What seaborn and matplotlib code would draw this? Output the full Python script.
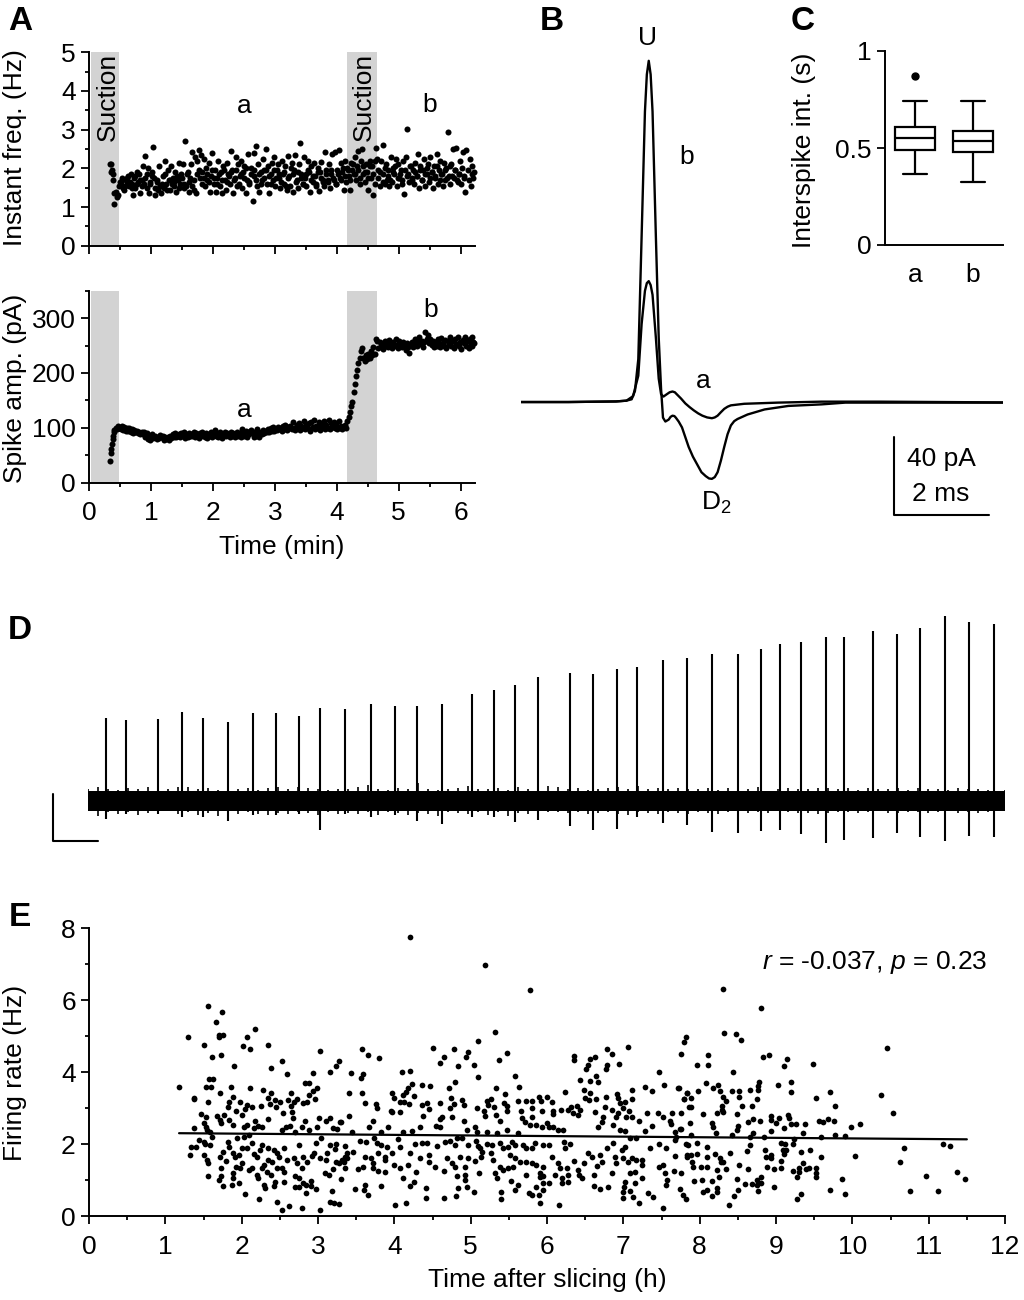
# -*- coding: utf-8 -*-
import numpy as np
import pandas as pd
import matplotlib
matplotlib.use('Agg')
import matplotlib.pyplot as plt
from matplotlib.ticker import MultipleLocator
import seaborn as sns

sns.set_theme(style='ticks')
plt.rcParams['font.family'] = ['Liberation Sans', 'DejaVu Sans']
plt.rcParams['mathtext.fontset'] = 'custom'
plt.rcParams['mathtext.rm'] = 'Liberation Sans'
plt.rcParams['mathtext.it'] = 'Liberation Sans:italic'
for k in ['text.color', 'axes.labelcolor', 'xtick.color', 'ytick.color', 'axes.edgecolor']:
    plt.rcParams[k] = 'black'

# panel A, one row per 0.2 min
a_time = [
 .34,.35,.36,.37,.38,.39,.40,.41,.43,.45,
 .47,.49,.51,.53,.55,.57,.59,.61,.63,.65,
 .67,.69,.71,.73,.75,.77,.79,.81,.83,.85,
 .87,.89,.91,.93,.95,.97,.99,1.01,1.03,1.05,
 1.07,1.09,1.11,1.13,1.15,1.17,1.19,1.21,1.23,1.25,
 1.27,1.29,1.31,1.33,1.35,1.37,1.39,1.41,1.43,1.45,
 1.47,1.49,1.51,1.53,1.55,1.57,1.59,1.61,1.63,1.65,
 1.67,1.69,1.71,1.73,1.75,1.77,1.79,1.81,1.83,1.85,
 1.87,1.89,1.91,1.93,1.95,1.97,1.99,2.01,2.03,2.05,
 2.07,2.09,2.11,2.13,2.15,2.17,2.19,2.21,2.23,2.25,
 2.27,2.29,2.31,2.33,2.35,2.37,2.39,2.41,2.43,2.45,
 2.47,2.49,2.51,2.53,2.55,2.57,2.59,2.61,2.65,2.66,
 2.67,2.70,2.71,2.73,2.75,2.77,2.79,2.81,2.83,2.85,
 2.87,2.89,2.91,2.93,2.95,2.97,2.99,3.01,3.03,3.05,
 3.07,3.09,3.11,3.13,3.15,3.17,3.19,3.21,3.23,3.25,
 3.27,3.29,3.31,3.33,3.35,3.37,3.39,3.41,3.43,3.45,
 3.47,3.49,3.51,3.53,3.55,3.57,3.59,3.61,3.63,3.65,
 3.67,3.69,3.71,3.73,3.75,3.77,3.79,3.81,3.83,3.85,
 3.87,3.89,3.91,3.93,3.95,3.97,3.99,4.01,4.03,4.05,
 4.07,4.09,4.11,4.13,4.15,4.17,4.19,4.21,4.23,4.25,
 4.27,4.29,4.31,4.33,4.35,4.37,4.39,4.41,4.43,4.45,
 4.47,4.49,4.51,4.53,4.55,4.57,4.59,4.61,4.63,4.65,
 4.67,4.69,4.71,4.74,4.75,4.77,4.79,4.81,4.83,4.85,
 4.87,4.89,4.91,4.93,4.95,4.97,4.99,5.01,5.03,5.05,
 5.07,5.09,5.11,5.13,5.15,5.17,5.19,5.21,5.23,5.25,
 5.27,5.29,5.31,5.33,5.35,5.37,5.39,5.41,5.43,5.45,
 5.47,5.49,5.51,5.53,5.55,5.57,5.59,5.61,5.63,5.65,
 5.67,5.69,5.71,5.73,5.75,5.77,5.79,5.81,5.83,5.85,
 5.87,5.89,5.91,5.93,5.95,5.97,5.99,6.01,6.03,6.05,
 6.07,6.09,6.11,6.13,6.15,6.17,6.18,6.19,6.20,6.21]
a_freq = [
 2.1,2.1,1.9,1.95,1.7,1.85,1.09,1.35,1.4,1.25,
 1.3,1.55,1.6,1.75,1.5,1.45,1.7,1.6,1.8,1.55,
 1.85,1.6,1.31,1.75,1.5,1.9,1.65,1.85,1.36,1.7,
 2.05,1.6,2.33,1.85,2.0,1.35,1.6,1.9,2.56,1.75,
 1.3,1.65,1.45,2.05,1.55,1.35,1.8,1.5,2.2,1.6,
 1.95,1.7,1.45,2.05,1.75,1.55,1.9,1.4,1.7,2.15,
 1.6,1.85,2.1,1.5,2.71,1.55,1.9,1.4,1.75,2.1,
 2.43,1.45,2.3,1.35,2.2,2.47,1.75,2.35,1.9,2.25,
 1.55,2.0,1.7,2.15,1.38,1.8,2.4,1.6,1.95,1.38,
 1.75,2.2,1.55,1.9,1.35,2.05,1.7,1.45,2.15,1.85,
 1.6,2.44,1.95,1.35,1.75,2.3,1.55,2.1,1.8,2.2,
 1.5,1.9,2.05,1.35,1.7,2.36,1.6,2.0,1.15,2.4,
 1.8,2.58,1.55,2.1,1.4,1.9,1.7,2.25,1.95,2.5,
 1.6,2.05,1.35,1.85,2.15,1.7,2.3,1.55,1.95,2.1,
 1.75,1.5,2.2,1.85,1.6,2.05,1.45,2.33,1.8,1.55,
 2.15,1.4,1.95,2.35,1.7,1.5,2.1,2.66,1.85,1.6,
 2.3,1.75,1.55,2.2,1.9,1.4,2.05,1.65,2.15,1.8,
 1.55,2.0,1.42,1.9,2.17,1.7,1.55,2.42,1.95,1.65,
 2.1,1.5,1.85,2.38,1.7,2.42,1.6,1.95,2.47,1.75,
 2.15,1.9,1.45,2.2,1.65,2.0,1.8,1.45,2.15,1.95,
 1.85,2.3,1.7,2.05,2.45,1.6,2.2,2.5,1.85,1.65,
 2.1,1.9,1.45,2.2,1.75,2.05,1.31,1.6,2.52,2.25,
 1.95,1.55,2.2,2.61,1.85,1.6,2.1,1.7,1.95,1.55,
 2.3,1.65,2.0,1.85,2.25,1.55,2.1,1.75,1.95,1.6,
 2.2,1.34,2.3,3.02,1.85,1.65,2.05,1.75,1.95,1.6,
 2.15,1.8,2.38,1.5,2.05,1.7,1.95,2.25,1.55,1.85,
 2.1,1.65,2.3,1.9,1.5,2.05,1.75,2.37,1.6,1.95,
 2.2,1.85,1.55,2.15,1.7,2.0,2.93,1.8,1.6,2.1,
 2.5,1.75,1.95,2.52,1.65,1.85,2.2,1.6,2.42,1.75,
 1.4,2.47,1.95,1.7,2.25,1.55,1.85,2.05,1.75,1.9]
# second pass over the same band, fills the gaps between the dots above
a_time2 = [
 .50,.54,.58,.62,.66,.70,.74,.78,.82,.86,.90,.94,.98,1.02,1.06,1.10,1.14,1.18,1.22,1.26,
 1.30,1.34,1.38,1.42,1.46,1.50,1.54,1.58,1.62,1.66,1.70,1.74,1.78,1.82,1.86,1.90,1.94,1.98,2.02,2.06,
 2.10,2.14,2.18,2.22,2.26,2.30,2.34,2.38,2.42,2.46,2.50,2.54,2.58,2.62,2.66,2.70,2.74,2.78,2.82,2.86,
 2.90,2.94,2.98,3.02,3.06,3.10,3.14,3.18,3.22,3.26,3.30,3.34,3.38,3.42,3.46,3.50,3.54,3.58,3.62,3.66,
 3.70,3.74,3.78,3.82,3.86,3.90,3.94,3.98,4.02,4.06,4.10,4.14,4.18,4.22,4.26,4.30,4.34,4.38,4.42,4.46,
 4.50,4.54,4.58,4.62,4.66,4.70,4.74,4.78,4.82,4.86,4.90,4.94,4.98,5.02,5.06,5.10,5.14,5.18,5.22,5.26,
 5.30,5.34,5.38,5.42,5.46,5.50,5.54,5.58,5.62,5.66,5.70,5.74,5.78,5.82,5.86,5.90,5.94,5.98,6.02,6.06]
a_freq2 = [
 1.65,1.7,1.55,1.75,1.65,1.5,1.8,1.6,1.7,1.55,1.75,1.5,1.65,1.8,1.5,1.7,1.55,1.6,1.85,1.45,
 1.7,1.6,1.65,1.8,1.5,1.75,1.6,1.85,1.65,1.55,1.7,1.85,1.95,1.6,1.75,1.85,1.65,1.95,1.75,1.6,
 1.85,1.7,1.95,1.65,1.8,1.9,1.7,1.95,1.6,1.85,1.75,2.0,1.65,1.85,1.95,1.7,1.85,1.6,1.75,1.95,
 1.8,1.6,1.95,1.75,1.85,1.65,1.9,1.55,1.75,2.0,1.85,1.65,1.9,1.75,1.6,1.85,1.95,1.7,1.8,1.6,
 1.9,1.75,1.65,1.85,1.7,1.95,1.75,1.6,1.85,1.7,2.0,1.8,1.95,1.7,2.1,1.85,1.95,1.75,2.05,1.9,
 1.75,2.05,1.85,2.2,1.75,1.9,1.65,2.0,1.8,1.7,1.9,2.05,1.75,1.85,1.7,1.95,1.8,2.05,1.7,1.9,
 1.8,1.95,1.7,1.85,2.0,1.75,1.9,1.8,2.05,1.7,1.85,1.95,1.75,2.05,1.8,1.95,1.7,1.85,2.0,1.8]
a_amp = [
 40,55,62,70,80,85,92,96,100,98,
 104,100,98,103,96,101,94,99,95,100,
 92,98,90,96,92,94,90,93,88,92,
 88,92,84,90,80,86,78,88,82,84,
 86,80,84,82,87,83,85,78,84,80,
 84,78,86,81,88,84,90,83,86,88,
 84,90,86,92,82,88,84,91,86,89,
 85,92,84,90,86,82,90,85,92,87,
 84,90,82,88,85,92,84,89,96,86,
 90,84,92,86,82,88,92,85,90,87,
 84,92,86,90,83,88,93,85,90,84,
 98,90,86,94,84,92,88,96,90,84,
 92,86,97,90,84,93,88,96,90,94,
 92,97,93,99,95,101,94,98,96,102,
 97,100,95,103,98,105,96,101,99,104,
 98,110,100,96,106,100,108,96,103,100,
 112,98,105,100,108,95,110,102,115,97,
 104,100,110,96,107,101,112,98,105,100,
 114,97,108,101,111,99,106,97,112,100,
 104,98,102,106,100,112,120,128,140,148,
 165,180,195,205,218,228,240,245,228,222,
 232,225,235,228,240,232,248,235,262,258,
 245,256,250,252,244,258,250,254,247,260,
 252,246,256,249,262,251,245,258,253,248,
 256,250,241,254,247,236,252,257,248,255,
 262,250,256,266,252,259,248,257,275,262,
 270,254,262,251,258,248,256,250,262,254,
 248,264,255,250,260,246,258,252,265,250,
 258,246,262,253,266,249,257,244,260,254,
 265,250,258,246,262,252,266,250,256,254]
suction_spans = [(0.03, 0.48), (4.17, 4.65)]

# panel B
b_time = [0,1.0,2.0,2.22,2.33,2.40,2.47,2.54,2.61,2.65,2.69,2.73,2.77,2.84,2.90,2.95,2.99,3.04,3.11,3.15,3.19,3.23,3.26,3.32,3.39,3.46,3.53,3.62,3.71,3.80,3.89,3.96,4.02,4.08,4.14,4.21,4.28,4.35,4.42,4.49,4.56,4.77,5.13,5.63,6.33,6.83,10.15]
b_curr = [0,0,0.3,0.7,1.4,5.7,22,85,149,168,175,168,149,85,33,6.6,-8,-10,-9,-7.6,-7,-7.2,-8,-10,-13,-18,-23,-28,-32,-36,-38,-39.2,-39.4,-38.5,-36,-30,-23,-16.5,-12,-9.8,-8.7,-6.4,-3.8,-2,-1.2,-0.3,-0.3]
a2_time = [0,1.0,2.0,2.22,2.36,2.47,2.54,2.61,2.65,2.69,2.73,2.77,2.84,2.90,2.95,3.0,3.07,3.13,3.19,3.24,3.28,3.37,3.46,3.55,3.64,3.73,3.82,3.92,4.02,4.08,4.14,4.21,4.28,4.35,4.42,4.70,5.41,6.33,7.54,10.15]
a2_curr = [0,0,0.3,0.7,3,13.5,40,57,61,62,60,55,33,12,4,2.8,4,5,5.4,5,4,1.8,-0.7,-2.6,-4.3,-5.8,-7,-7.9,-8.3,-7.9,-7,-5.2,-3.5,-2.4,-1.7,-0.9,-0.3,0.2,0.2,-0.2]

# panel C
isi_a = [0.365,0.45,0.49,0.53,0.55,0.58,0.61,0.74,0.87]
isi_b = [0.325,0.42,0.48,0.51,0.535,0.56,0.59,0.66,0.74]

# panel D
spike_t = [0.35,0.76,1.39,1.87,2.29,2.79,3.29,3.75,4.21,4.64,5.13,5.65,6.13,6.57,7.07,7.68,8.11,8.54,9.0,9.63,10.09,10.58,10.98,11.49,11.98,12.47,13.0,13.46,13.84,14.25,14.75,15.11,15.69,16.17,16.63,17.14,17.61,18.11]
spike_up = [164,161,163,177,165,156,175,175,169,184,183,193,188,189,193,213,220,230,247,255,253,262,267,281,285,293,293,303,312,316,327,326,339,332,345,369,357,353]
spike_down = [-37,-27,-27,-33,-33,-41,-30,-30,-27,-59,-27,-33,-30,-41,-48,-33,-33,-43,-40,-51,-59,-57,-33,-45,-49,-64,-65,-61,-59,-67,-85,-80,-76,-65,-74,-82,-71,-73]
noise_core = (-21, 19)
noise_t = [0,.2,.4,.6,.8,1,1.2,1.4,1.6,1.8,2,2.2,2.4,2.6,2.8,3,3.2,3.4,3.6,3.8,4,4.2,4.4,4.6,4.8,5,5.2,5.4,5.6,5.8,6,6.2,6.4,6.6,6.8,7,7.2,7.4,7.6,7.8,8,8.2,8.4,8.6,8.8,9,9.2,9.4,9.6,9.8,10,10.2,10.4,10.6,10.8,11,11.2,11.4,11.6,11.8,12,12.2,12.4,12.6,12.8,13,13.2,13.4,13.6,13.8,14,14.2,14.4,14.6,14.8,15,15.2,15.4,15.6,15.8,16,16.2,16.4,16.6,16.8,17,17.2,17.4,17.6,17.8,18,18.34]
noise_hi = [22,26,23,21,24,22,26,25,22,26,27,22,24,21,23,22,24,21,25,26,22,27,24,22,21,23,22,26,30,22,21,24,22,34,23,21,22,24,29,23,22,24,21,26,22,23,29,26,22,24,21,23,24,26,22,28,22,25,23,24,22,23,25,21,24,22,23,27,18,23,24,22,23,25,24,22,25,21,24,23,22,25,21,24,22,23,21,24,23,22,21,20]
noise_lo = [-22,-32,-24,-28,-23,-30,-25,-26,-22,-28,-24,-30,-26,-32,-23,-28,-24,-27,-30,-25,-28,-24,-26,-30,-24,-27,-25,-28,-23,-30,-24,-26,-30,-25,-28,-31,-24,-26,-28,-23,-30,-24,-32,-25,-28,-30,-24,-23,-26,-24,-28,-25,-24,-27,-30,-24,-26,-28,-24,-25,-27,-23,-25,-28,-24,-23,-26,-24,-25,-22,-24,-26,-25,-28,-26,-24,-23,-25,-24,-22,-25,-26,-23,-24,-26,-24,-22,-25,-24,-26,-24,-22]

# panel E
e_time = [
 1.18,1.30,1.56,1.66,1.74,1.70,1.70,1.75,1.50,1.61,1.73,1.90,2.02,2.07,2.11,2.17,2.35,2.38,2.53,2.60,3.02,3.27,3.23,3.16,2.93,2.83,2.88,2.99,2.94,2.88,2.96,
 1.57,1.63,1.53,1.60,1.71,1.38,1.38,1.56,1.86,2.11,2.28,2.38,2.64,1.89,1.84,1.98,2.07,2.13,2.05,2.35,2.44,2.50,2.37,2.45,2.61,2.72,2.68,2.64,2.81,2.85,2.25,
 1.82,1.93,2.0,1.47,1.53,1.68,1.77,1.71,1.83,1.73,1.38,1.51,1.53,1.55,1.58,1.88,2.03,2.07,2.16,2.17,2.22,2.27,2.35,2.54,2.66,2.67,2.58,2.63,2.53,2.7,2.79,2.83,2.88,3.01,2.99,3.11,3.16,3.19,3.25,3.30,3.40,
 1.33,1.40,1.32,1.44,1.50,1.52,1.58,1.61,1.50,1.54,1.56,1.56,1.71,1.73,1.73,1.70,1.76,1.79,1.76,1.87,1.82,1.84,1.88,1.91,1.96,1.92,1.89,1.89,1.98,1.96,2.05,2.0,
 1.94,2.03,2.09,2.01,2.07,2.14,2.16,2.2,2.09,2.14,2.2,2.22,2.29,2.31,2.23,2.27,2.24,2.35,2.29,2.27,2.33,2.38,2.44,2.42,2.35,2.40,2.42,2.46,2.49,2.55,2.46,2.53,2.55,2.55,2.46,2.53,2.62,2.79,3.02,3.16,3.21,3.27,
 2.60,2.68,2.73,2.70,2.75,2.70,2.75,2.80,2.84,2.84,2.91,2.91,2.98,2.79,2.86,2.81,2.75,2.95,2.92,3.02,3.12,3.11,2.98,3.04,3.16,3.23,3.22,3.19,3.09,3.14,3.27,3.23,3.30,3.18,3.36,3.34,3.38,3.36,
 4.20,5.19,5.78,5.32,5.10,3.58,3.66,3.80,3.43,3.59,3.56,4.10,4.21,4.51,4.65,4.60,4.78,4.97,4.94,4.84,5.04,5.10,5.37,5.48,5.58,5.63,4.79,4.72,4.36,4.47,4.23,4.18,4.15,5.33,3.97,3.99,4.12,4.26,3.58,3.40,3.62,3.76,3.77,4.07,4.13,4.19,3.95,3.97,4.08,4.36,4.43,4.46,4.37,4.6,4.74,4.88,4.78,4.73,4.91,4.75,4.63,4.6,4.91,5.08,5.21,5.26,5.45,5.44,5.47,5.23,5.31,5.17,5.19,5.33,5.48,5.39,
 5.62,5.72,5.8,5.9,5.92,6.0,6.07,5.66,5.81,5.81,5.93,6.08,6.08,6.18,6.27,6.24,6.32,6.39,6.43,6.34,6.41,6.36,6.36,6.63,6.56,6.54,6.51,6.78,6.77,6.85,6.79,6.94,7.06,6.64,6.67,6.56,6.43,6.49,6.56,6.50,6.55,6.64,6.77,6.92,6.93,7.12,7.11,6.96,7.02,7.0,6.76,6.85,6.93,6.91,7.08,7.04,7.12,6.63,6.74,6.72,6.67,6.87,6.96,7.02,7.21,7.28,7.38,7.47,7.53,7.31,7.45,7.52,7.38,7.28,7.73,7.84,7.79,7.86,7.64,7.76,7.61,7.63,7.76,7.80,7.82,7.76,
 5.86,5.93,6.0,6.03,6.08,6.15,6.21,5.67,5.71,5.78,5.47,5.62,5.06,5.08,5.21,5.34,4.95,4.55,4.6,4.23,4.12,3.92,3.83,3.67,3.72,4.33,3.45,3.29,
 3.55,3.63,3.73,3.77,3.83,3.9,4.05,4.07,4.27,4.36,4.43,4.56,4.66,4.73,4.82,4.79,4.88,4.96,5.07,5.09,5.12,5.15,5.22,5.28,5.38,5.43,5.49,5.54,5.58,5.69,5.73,5.8,5.84,5.95,6.02,6.22,6.3,6.24,6.54,6.59,6.69,6.87,6.78,7.02,6.98,7.09,7.17,7.35,7.47,7.56,7.68,7.85,
 3.35,3.38,3.46,3.31,3.62,3.7,3.72,3.79,3.88,3.88,3.97,3.59,3.52,3.72,3.78,3.88,4.0,4.08,4.18,4.21,4.34,4.45,4.46,4.53,4.29,4.12,4.26,4.2,4.42,4.41,4.65,4.69,4.75,4.79,4.86,4.93,4.97,4.82,4.93,4.93,4.95,4.83,4.81,4.65,4.01,4.15,3.48,3.62,3.6,3.66,3.83,5.04,5.11,5.06,5.14,5.27,5.29,5.32,5.35,5.4,5.4,5.38,5.43,5.49,5.55,5.53,5.62,5.58,5.52,5.58,5.65,
 5.72,5.8,5.86,5.95,5.72,5.91,5.91,5.95,5.77,5.8,5.89,5.86,5.95,6.02,5.95,5.91,6.16,6.06,6.15,6.17,6.26,6.1,6.19,6.28,6.28,6.2,6.36,6.48,6.41,6.42,6.46,6.61,6.61,6.7,6.8,6.65,6.72,6.85,6.89,6.91,7.0,7.06,7.11,7.17,7.24,7.24,7.09,7.15,7.02,7.01,7.15,7.0,7.0,7.09,7.13,7.21,7.24,7.32,7.39,7.52,7.47,7.52,7.55,7.57,7.56,7.68,7.66,7.75,7.74,7.78,7.82,7.83,
 8.31,8.81,8.32,8.48,8.54,10.46,8.83,8.91,9.14,9.1,9.48,8.11,8.11,7.96,8.44,8.08,8.24,8.18,8.26,7.98,7.72,8.31,8.35,8.29,8.29,8.31,8.23,8.42,8.52,8.52,8.55,8.49,8.68,8.75,8.66,8.76,8.76,8.78,9.03,9.19,9.19,9.71,9.53,9.77,10.38,10.53,8.04,7.88,7.88,7.79,7.83,7.87,8.16,8.17,8.21,
 8.63,8.7,8.79,8.94,8.94,9.04,9.0,9.1,9.16,9.17,9.19,9.26,9.38,8.94,8.49,8.5,8.7,9.35,9.56,9.61,9.68,9.76,9.77,9.9,9.98,10.1,
 11.19,11.28,10.68,10.62,10.97,11.37,11.48,10.76,11.12,10.03,9.86,9.9,9.71,9.59,9.53,9.53,9.52,9.44,9.43,9.39,9.36,9.33,9.3,9.3,9.22,9.28,9.33,9.28,9.06,9.12,9.22,9.09,9.13,9.11,9.06,9.07,8.97,8.88,8.86,8.87,8.93,8.93,8.97,8.66,8.62,8.52,8.63,8.4,
 8.34,8.28,8.26,8.2,8.31,8.1,8.1,8.1,8.02,7.91,7.9,7.83,7.88,7.97,7.97,7.82,8.23,8.25,8.16,8.03,7.92,8.49,8.5,8.45,8.39,8.23,8.23,8.1,8.04,8.16,8.6,8.69,8.75,8.8,8.8,8.75,8.76,8.42,8.84,8.66,9.24,9.59,7.88,7.69,7.74,7.68]
e_rate = [
 3.58,4.98,5.83,5.38,5.68,5.03,4.96,5.03,4.75,4.41,4.47,4.17,4.73,4.98,4.65,5.19,4.75,4.12,4.31,3.94,4.59,4.31,4.18,3.99,3.96,3.70,3.69,3.55,3.48,3.36,3.24,
 3.80,3.80,3.59,3.59,3.41,3.29,3.25,3.17,3.57,3.56,3.51,3.43,3.43,3.31,3.16,3.16,3.08,3.02,2.96,3.27,3.22,3.16,3.11,3.04,3.22,3.25,3.18,3.06,3.15,3.16,3.06,
 3.02,2.93,2.81,2.83,2.76,2.79,2.81,2.67,2.67,2.59,2.45,2.57,2.46,2.39,2.32,2.53,2.48,2.53,2.45,2.64,2.5,2.48,2.69,2.85,2.9,2.71,2.48,2.51,2.39,2.34,2.48,2.65,2.39,2.71,2.46,2.63,2.71,2.44,2.43,2.62,2.79,
 1.93,1.93,1.69,2.11,2.06,2.0,1.97,2.19,1.69,1.56,1.46,1.11,1.63,1.32,1.11,1.0,1.79,1.54,.83,.86,2.06,1.91,1.74,1.65,1.69,1.37,1.19,1.05,1.32,.93,.61,1.46,
 2.16,2.2,2.25,1.88,1.88,2.02,1.72,1.65,1.28,1.32,1.14,1.05,.86,.77,.47,1.97,1.83,1.88,1.42,1.32,1.23,1.14,.95,.83,1.56,1.51,1.83,1.74,1.65,1.88,1.32,1.32,1.23,.95,.4,.17,.29,.22,.17,.38,.37,.33,
 1.56,1.6,1.46,1.11,1.05,.8,.8,.91,.86,.63,.98,.83,.76,1.32,1.51,1.65,1.97,1.74,1.67,1.6,1.74,1.56,2.02,2.16,1.97,2.0,1.85,1.3,1.19,1.14,1.46,1.51,1.02,.7,1.32,1.5,1.6,1.94,
 7.74,6.97,6.28,5.10,4.85,4.64,4.48,4.39,3.97,3.94,3.84,4.0,4.03,4.67,4.41,4.26,4.63,4.56,4.42,4.17,4.2,3.86,4.33,4.54,3.89,3.57,3.73,3.56,3.65,3.61,3.66,3.56,3.45,3.56,3.43,3.27,3.36,3.33,3.43,3.41,3.13,3.11,2.99,3.18,3.18,3.11,2.92,2.9,2.89,3.08,3.13,2.96,2.79,3.13,3.28,3.22,3.11,2.99,3.07,2.76,2.76,2.69,2.64,3.0,3.2,3.25,3.39,3.13,3.06,3.07,3.02,2.93,2.79,2.81,2.92,2.65,
 3.2,3.19,3.2,3.3,3.19,3.31,3.18,2.93,2.99,2.76,2.93,2.93,2.83,2.94,2.94,3.44,3.04,3.06,2.94,2.85,2.81,4.44,4.33,4.42,4.35,4.19,4.08,4.19,4.08,4.49,4.64,4.22,4.69,3.9,3.73,3.75,3.78,3.5,3.41,3.29,3.22,3.24,3.31,3.39,3.27,3.49,3.24,3.13,3.18,2.99,3.04,2.94,2.85,2.76,2.93,2.76,2.74,2.9,2.76,2.62,2.48,2.53,2.39,2.37,2.64,3.59,3.47,4.01,3.63,2.85,2.87,2.76,2.5,2.37,3.56,3.41,3.24,3.02,2.85,2.85,2.65,2.56,2.41,4.84,4.98,4.49,
 2.53,2.48,2.57,2.48,2.48,2.39,2.39,2.71,2.62,2.53,2.39,2.31,2.48,2.34,2.34,2.3,2.39,2.5,2.48,2.36,2.32,2.46,2.32,2.48,2.65,2.46,2.34,2.62,
 2.09,2.06,2.16,2.02,1.97,1.93,2.13,1.91,1.99,2.02,2.02,1.94,2.06,2.09,2.16,1.97,2.18,1.97,2.08,1.94,1.88,1.79,2.0,1.97,2.02,1.88,1.93,2.06,1.97,1.97,1.88,1.88,2.02,1.97,1.97,2.06,1.99,1.88,1.74,1.65,1.69,2.02,1.88,1.93,1.83,2.16,2.16,1.88,1.99,1.88,2.11,1.97,
 1.65,1.74,1.77,1.56,1.65,1.6,1.46,1.74,1.65,1.56,1.74,1.37,1.3,1.34,1.26,1.23,1.42,1.32,1.42,1.74,1.62,1.69,1.51,1.37,1.23,1.05,.95,.84,.77,.49,1.25,1.62,1.46,1.37,1.65,1.37,1.6,1.11,1.14,1.0,.81,.77,.56,.49,.3,.35,.74,.86,.72,.58,.83,.68,1.19,1.54,1.65,1.74,1.56,1.19,1.05,.66,.47,1.37,1.28,1.34,1.37,.98,.85,.72,1.69,1.6,1.51,
 1.51,1.46,1.42,1.37,1.14,1.19,1.07,1.11,.63,.58,.58,.81,.91,.91,.72,.35,.31,1.65,1.46,1.32,1.32,1.14,1.05,1.14,.95,.91,1.53,1.46,1.28,1.14,1.05,1.14,.83,.74,.81,1.39,1.51,1.19,1.65,1.46,1.6,1.51,1.6,1.56,1.56,1.42,1.19,1.23,.95,.81,.91,.68,.49,.69,.54,.37,1.05,.63,.54,.23,1.37,1.42,1.19,1.0,.86,1.67,1.26,1.19,.74,.58,.47,1.69,
 6.31,5.79,5.07,5.06,4.89,4.67,4.41,4.48,4.36,4.17,4.21,4.47,4.19,4.19,4.0,3.69,3.63,3.55,3.47,3.47,3.56,3.31,3.19,3.06,2.94,2.9,2.85,3.47,3.46,3.31,3.06,2.83,3.06,3.25,3.5,3.5,3.61,3.72,3.64,3.73,3.45,3.44,3.27,3.06,3.37,2.87,2.83,3.02,3.27,3.25,3.41,2.59,2.57,2.46,2.31,
 2.6,2.69,2.64,2.78,2.67,2.73,2.57,2.45,2.81,2.72,2.55,2.55,2.56,2.37,2.39,2.49,2.3,2.3,2.64,2.6,2.69,2.65,2.25,2.23,2.47,2.56,
 1.99,1.95,1.89,1.51,1.11,1.23,1.02,.69,.7,1.68,1.03,.62,.73,1.65,1.09,1.19,1.32,1.83,1.34,1.3,1.46,1.77,1.32,1.23,1.25,1.07,.61,.48,2.02,1.99,1.99,1.83,1.83,1.71,1.53,1.34,1.3,1.37,1.83,1.65,1.69,1.6,.81,1.97,1.81,1.42,1.3,1.76,
 1.31,1.51,1.6,1.72,1.51,1.91,1.65,1.37,1.37,1.37,1.51,1.65,1.69,1.72,2.02,1.99,1.28,1.09,.98,1.0,.98,1.02,.72,.56,.3,.77,.68,.72,.68,.56,.89,.89,.86,.91,1.09,1.0,.7,2.25,2.19,2.2,2.15,2.19,2.25,2.2,2.41,2.34]
fit_time = [1.18, 11.5]
fit_rate = [2.30, 2.13]

W, H = 1024, 1300
FS = 19
fig = plt.figure(figsize=(W / 100, H / 100), dpi=100)


def add_ax(x0, y0, x1, y1):
    return fig.add_axes([x0 / W, 1 - y1 / H, (x1 - x0) / W, (y1 - y0) / H])


def px_text(x, y, s, **kw):
    kw.setdefault('fontsize', FS)
    kw.setdefault('ha', 'center')
    kw.setdefault('va', 'center')
    fig.text(x / W, 1 - y / H, s, **kw)


def style(ax):
    sns.despine(ax=ax)
    for sp in ['left', 'bottom']:
        ax.spines[sp].set_linewidth(1.4)
    ax.tick_params(which='major', length=5.5, width=1.3, labelsize=FS, pad=4)
    ax.tick_params(which='minor', length=3, width=1.3)
    ax.patch.set_alpha(0)


def ylab(ax, s, x, y):
    ax.set_ylabel(s, fontsize=FS)
    ax.yaxis.set_label_coords(x / W, 1 - y / H, transform=fig.transFigure)


def xlab(ax, s, x, y):
    ax.set_xlabel(s, fontsize=FS)
    ax.xaxis.set_label_coords(x / W, 1 - y / H, transform=fig.transFigure)


# A top
ax1 = add_ax(89, 52.3, 474.7, 245.7)
for s0, s1 in suction_spans:
    ax1.axvspan(s0, s1, color='#d3d3d3', lw=0)
sns.scatterplot(x=a_time, y=a_freq, ax=ax1, color='black', s=19, linewidth=0, clip_on=False)
sns.scatterplot(x=a_time2, y=a_freq2, ax=ax1, color='black', s=19, linewidth=0, clip_on=False)
ax1.set_xlim(0, 6.226)
ax1.set_ylim(0, 5)
ax1.xaxis.set_major_locator(MultipleLocator(1))
ax1.xaxis.set_minor_locator(MultipleLocator(0.5))
ax1.yaxis.set_major_locator(MultipleLocator(1))
ax1.yaxis.set_minor_locator(MultipleLocator(0.5))
style(ax1)
ax1.set_xticklabels([])
ylab(ax1, 'Instant freq. (Hz)', 27, 148)

# A bottom
ax2 = add_ax(89, 290.7, 474.7, 482.7)
for s0, s1 in suction_spans:
    ax2.axvspan(s0, s1, color='#d3d3d3', lw=0)
sns.scatterplot(x=a_time, y=a_amp, ax=ax2, color='black', s=19, linewidth=0, clip_on=False)
ax2.set_xlim(0, 6.226)
ax2.set_ylim(0, 350)
ax2.xaxis.set_major_locator(MultipleLocator(1))
ax2.xaxis.set_minor_locator(MultipleLocator(0.5))
ax2.yaxis.set_major_locator(MultipleLocator(100))
ax2.yaxis.set_minor_locator(MultipleLocator(50))
style(ax2)
ax2.tick_params(axis='x', which='major', pad=8)
xlab(ax2, 'Time (min)', 282, 535)
ylab(ax2, 'Spike amp. (pA)', 27, 388)

px_text(108, 97, 'Suction', rotation=90)
px_text(364, 97, 'Suction', rotation=90)
px_text(244, 106, 'a')
px_text(430, 105, 'b')
px_text(244, 410, 'a')
px_text(431, 310, 'b')

# B
ax3 = add_ax(521, 30, 1003, 520)
sns.lineplot(x=b_time, y=b_curr, ax=ax3, color='black', lw=1.7, sort=False, errorbar=None)
sns.lineplot(x=a2_time, y=a2_curr, ax=ax3, color='black', lw=1.7, sort=False, errorbar=None)
ax3.set_xlim(0, 10.15)
ax3.set_ylim(-60.5, 190.8)
ax3.axis('off')
ax3.plot([7.85, 7.85, 9.85], [-18, -58, -58], color='black', lw=1.5)
px_text(648, 38, 'U')
px_text(687, 157, 'b')
px_text(703, 381, 'a')
px_text(716, 503, 'D$_2$')
px_text(941, 459, '40 pA')
px_text(941, 494, '2 ms')

# C
ax4 = add_ax(885, 51, 1003, 245)
df_isi = pd.DataFrame({'group': ['a'] * len(isi_a) + ['b'] * len(isi_b), 'isi': isi_a + isi_b})
sns.boxplot(data=df_isi, x='group', y='isi', ax=ax4, color='white', linecolor='black', linewidth=1.6,
            width=0.69, capwidths=0.42, fliersize=5, flierprops={'marker': 'o', 'markerfacecolor': 'black'})
ax4.set_xlim(-0.517, 1.517)
ax4.set_ylim(0, 1)
ax4.set_yticks([0, 0.5, 1])
ax4.set_yticklabels(['0', '0.5', '1'])
style(ax4)
ax4.tick_params(axis='x', length=0, pad=13)
ax4.set_xlabel('')
ylab(ax4, 'Interspike int. (s)', 816, 150)

# D
ax5 = add_ax(88, 610, 1005, 850)
ax5.axhspan(noise_core[0], noise_core[1], color='black', lw=0)
ax5.vlines(noise_t, noise_lo, noise_hi, color='black', lw=1.2)
ax5.vlines(spike_t, spike_down, spike_up, color='black', lw=1.5)
ax5.plot([-0.7, -0.7, 0.2], [12, -82, -82], color='black', lw=1.5, clip_on=False)
ax5.set_xlim(0, 18.34)
ax5.set_ylim(-100, 380)
ax5.axis('off')

# E
ax6 = add_ax(89, 928, 1005, 1216)
sns.scatterplot(x=e_time, y=e_rate, ax=ax6, color='black', s=17, linewidth=0, clip_on=False)
sns.lineplot(x=fit_time, y=fit_rate, ax=ax6, color='black', lw=1.6, errorbar=None)
ax6.set_xlim(0, 12)
ax6.set_ylim(0, 8)
ax6.xaxis.set_major_locator(MultipleLocator(1))
ax6.xaxis.set_minor_locator(MultipleLocator(0.5))
ax6.yaxis.set_major_locator(MultipleLocator(2))
ax6.yaxis.set_minor_locator(MultipleLocator(1))
style(ax6)
ax6.tick_params(axis='x', which='major', pad=8)
xlab(ax6, 'Time after slicing (h)', 547, 1268)
ylab(ax6, 'Firing rate (Hz)', 27, 1073)
px_text(875, 962, r'$\mathit{r}$ = -0.037, $\mathit{p}$ = 0.23')

for lab, x, y in [('A', 20, 21), ('B', 552, 21), ('C', 803, 21), ('D', 20, 630), ('E', 20, 918)]:
    px_text(x, y, lab, fontsize=24, fontweight='bold')

fig.savefig('out.png', dpi=100)
